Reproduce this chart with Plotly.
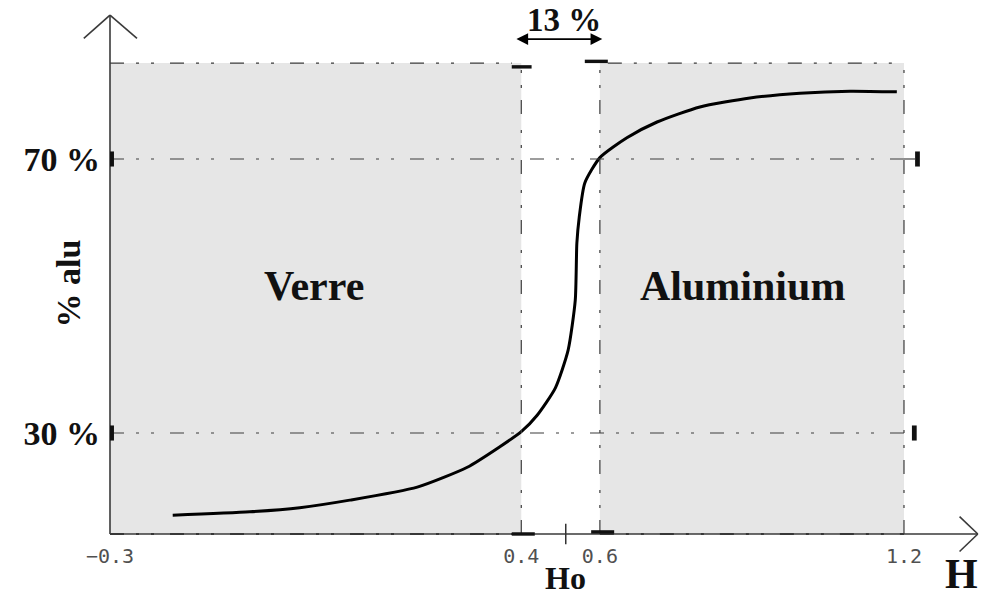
import plotly.graph_objects as go

# ---------------- data ----------------
# x : H in schematic drawing units (y-axis at 0, right border at 100)
# y : % alu
curve_h = [7.9, 17.6, 23.9, 30.2, 38.7, 45.0, 49.1, 51.8, 53.8, 56.1, 57.7,
           58.6, 58.8, 59.1, 59.8, 61.7, 65.1, 68.9, 74.3, 80.6, 86.9, 93.2, 99.1]
curve_alu = [18.0, 18.5, 19.1, 20.2, 22.1, 25.0, 28.0, 30.2, 32.6, 36.6, 42.1,
             49.4, 57.7, 61.5, 66.5, 70.2, 73.1, 75.4, 77.6, 78.9, 79.6, 79.9, 79.8]

x_tick_pos = [0, 51.8, 61.7, 100]
x_tick_labels = ["\u22120.3", "0.4", "0.6", "1.2"]
y_tick_vals = [30, 70]
y_tick_labels = ["30 %", "70 %"]

h_low, h_high = 51.8, 61.7      # limits of the separation band (0.4 / 0.6)
h_o = 57.4                      # Ho
h_max = 100                     # 1.2
alu_min, alu_max = 15.26, 84.0  # bottom / top of shaded zones
gap_label = "13 %"
zone_labels = ["Verre", "Aluminium"]

# ---------------- figure ----------------
X0, X1 = -13.854, 109.70
Y0, Y1 = 5.33, 93.21

AX = "#3a3a3a"
DD = "14px,12px,3px,12px,3px,16px"
GRAY = "#e6e6e6"
SERIF = "Liberation Serif"

fig = go.Figure()

shapes = []
# shaded zones
shapes.append(dict(type="rect", x0=0, x1=h_low, y0=alu_min, y1=alu_max,
                   fillcolor=GRAY, line_width=0, layer="below"))
shapes.append(dict(type="rect", x0=h_high, x1=h_max, y0=alu_min, y1=alu_max,
                   fillcolor=GRAY, line_width=0, layer="below"))

def dl(x0, y0, x1, y1, w=1.2, color="#3c3c3c", dash=DD):
    shapes.append(dict(type="line", x0=x0, y0=y0, x1=x1, y1=y1,
                       line=dict(color=color, width=w, dash=dash)))

# dash-dot guides
for yv in y_tick_vals:
    dl(0, yv, h_max, yv)
dl(0, alu_max, h_low - 1.2, alu_max)
dl(h_high + 1.0, alu_max, h_max, alu_max)
dl(h_low, alu_min, h_low, alu_max - 0.6)
dl(h_high, alu_min, h_high, alu_max + 0.2)
dl(h_max, alu_min, h_max, alu_max)
# bold dashes over bottom axis
dl(0, alu_min, h_low, alu_min, w=2.2, color="#333")
dl(h_high, alu_min, h_max, alu_min, w=2.2, color="#333")

# axes with open arrow heads
y_tip = 91.0
x_tip = 109.3
shapes.append(dict(type="line", x0=0, y0=alu_min, x1=0, y1=y_tip, line=dict(color=AX, width=1.6)))
shapes.append(dict(type="line", x0=-3.3, y0=87.6, x1=0, y1=y_tip, line=dict(color=AX, width=1.6)))
shapes.append(dict(type="line", x0=3.4, y0=87.6, x1=0, y1=y_tip, line=dict(color=AX, width=1.6)))
shapes.append(dict(type="line", x0=0, y0=alu_min, x1=x_tip, y1=alu_min, line=dict(color=AX, width=1.6)))
shapes.append(dict(type="line", x0=107.0, y0=17.8, x1=x_tip, y1=alu_min, line=dict(color=AX, width=1.6)))
shapes.append(dict(type="line", x0=107.0, y0=12.7, x1=x_tip, y1=alu_min, line=dict(color=AX, width=1.6)))

# thick tick marks
def bar(x0, x1, y0, y1):
    shapes.append(dict(type="rect", x0=x0, x1=x1, y0=y0, y1=y1,
                       fillcolor="#111", line_width=0))
for yv in y_tick_vals:
    bar(0, 0.5, yv - 1.1, yv + 1.1)
bar(101.4, 102.0, 70 - 1.1, 70 + 1.1)
shapes.append(dict(type="line", x0=h_max, y0=70, x1=101.4, y1=70, line=dict(color="#444", width=1.2)))
bar(101.0, 101.6, 30 - 1.1, 30 + 1.1)
bar(50.6, 53.1, 83.2, 83.7)
bar(59.8, 62.7, 84.0, 84.5)
bar(50.6, 53.5, alu_min - 0.25, alu_min + 0.25)
bar(60.6, 63.5, alu_min + 0.05, alu_min + 0.55)
shapes.append(dict(type="line", x0=h_o, y0=alu_min - 1.5, x1=h_o, y1=alu_min + 1.5,
                   line=dict(color="#333", width=1.5)))

fig.add_trace(go.Scatter(x=curve_h, y=curve_alu, mode="lines",
                         line=dict(color="#000", width=3, shape="spline", smoothing=0.6),
                         hoverinfo="skip", showlegend=False))

ann = []
ann.append(dict(x=h_high + 0.3, y=87.5, ax=h_low - 0.8, ay=87.5, xref="x", yref="y",
                axref="x", ayref="y", text="", showarrow=True, arrowside="end+start",
                arrowhead=2, startarrowhead=2, arrowsize=1.3, startarrowsize=1.3,
                arrowwidth=1.8, arrowcolor="#000"))
ann.append(dict(x=57.2, y=90.3, text="<b>%s</b>" % gap_label, showarrow=False,
                font=dict(family=SERIF, size=33, color="#111")))
ann.append(dict(x=25.7, y=51.5, text="<b>%s</b>" % zone_labels[0], showarrow=False,
                font=dict(family=SERIF, size=42, color="#111")))
ann.append(dict(x=79.6, y=51.5, text="<b>%s</b>" % zone_labels[1], showarrow=False,
                font=dict(family=SERIF, size=42, color="#111")))
ann.append(dict(x=-5.2, y=51.8, text="<b>% alu</b>", textangle=-90, showarrow=False,
                font=dict(family=SERIF, size=34, color="#111")))
ann.append(dict(x=h_o, y=8.9, text="<b>Ho</b>", showarrow=False,
                font=dict(family=SERIF, size=32, color="#111")))
ann.append(dict(x=107.3, y=9.4, text="<b>H</b>", showarrow=False,
                font=dict(family=SERIF, size=42, color="#111")))

fig.update_layout(
    width=981, height=602,
    margin=dict(l=0, r=0, t=0, b=0),
    paper_bgcolor="white", plot_bgcolor="white",
    shapes=shapes, annotations=ann, showlegend=False,
    xaxis=dict(range=[X0, X1], showgrid=False, zeroline=False, showline=False,
               tickvals=x_tick_pos, ticktext=x_tick_labels, ticks="",
               anchor="free", position=1 - 534 / 602, side="bottom",
               ticklabelstandoff=8,
               tickfont=dict(family="DejaVu Sans Mono", size=20, color="#505050"),
               fixedrange=True),
    yaxis=dict(range=[Y0, Y1], showgrid=False, zeroline=False, showline=False,
               tickvals=y_tick_vals, ticktext=["<b>%s</b>" % t for t in y_tick_labels],
               ticks="", anchor="free", position=110 / 981, side="left",
               ticklabelstandoff=10,
               tickfont=dict(family=SERIF, size=34, color="#111"),
               fixedrange=True),
)

fig.write_html("out.html", config={"displayModeBar": False})
with open("out.html", "r", encoding="utf-8") as f:
    html = f.read()
html = html.replace("<body>", '<body style="margin:0;padding:0;overflow:hidden">', 1)
with open("out.html", "w", encoding="utf-8") as f:
    f.write(html)
